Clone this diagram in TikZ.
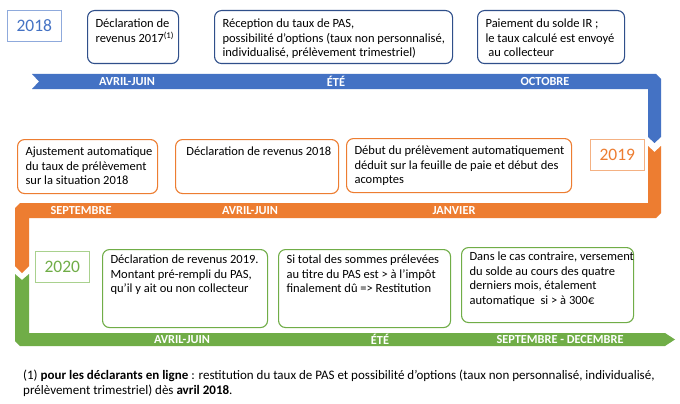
\documentclass[tikz,border=0pt]{standalone}
\usepackage{fontspec}
\setmainfont{Carlito}
\usetikzlibrary{calc}
\definecolor{cblue}{HTML}{4472C4}
\definecolor{corange}{HTML}{ED7D31}
\definecolor{cgreen}{HTML}{70AD47}
\definecolor{bdblue}{HTML}{2F4F8A}
\definecolor{lblue}{HTML}{8FAADC}
\definecolor{lorange}{HTML}{F4B183}
\definecolor{lgreen}{HTML}{A9D18E}
\newcommand{\bxt}[3]{\parbox[t][#2][t]{#1}{\begin{tabular}[t]{@{}l@{}}#3\end{tabular}}}
\begin{document}
\begin{tikzpicture}[x=1pt,y=-1pt,
 evt/.style={draw, rounded corners=7pt, line width=1.1pt, anchor=north west, inner xsep=8pt, inner ysep=7pt, font=\fontsize{12.5}{14.5}\selectfont, text=black},
 yr/.style={draw, line width=0.7pt, anchor=north west, minimum width=54pt, minimum height=31pt, inner sep=0pt, font=\fontsize{17.5}{20}\selectfont},
 lbl/.style={text=white, font=\fontsize{12.3}{14}\selectfont\bfseries, inner sep=0pt}]
\useasboundingbox (0,0) rectangle (680,404);
\fill[white] (0,0) rectangle (680,404);
% bands
\fill[cblue] (32,74) -- (656,74) -- (661,79) -- (661,137) -- (654.5,143) -- (648,137) -- (648,89) -- (32,89) -- (39,81.5) -- cycle;
\fill[corange] (648,146) -- (654.5,152) -- (661,146) -- (661,213) -- (656,218) -- (29,218) -- (29,266) -- (22,273) -- (15,266) -- (15,208) -- (20,203) -- (648,203) -- cycle;
\fill[cgreen] (15,274) -- (22,280) -- (29,274) -- (29,333) -- (665,333) -- (675,339.5) -- (665,346) -- (20,346) -- (15,341) -- cycle;
% band labels
\node[lbl] (l1) at (127,81.5) {AVRIL-JUIN};
\node[lbl] (l2) at (336,81.5) {ÉTÉ};
\node[lbl] (l3) at (545,81.5) {OCTOBRE};
\node[lbl] (l4) at (81,210.5) {SEPTEMBRE};
\node[lbl] (l5) at (250,210.5) {AVRIL-JUIN};
\node[lbl] (l6) at (454,210.5) {JANVIER};
\node[lbl] (l7) at (182,339.5) {AVRIL-JUIN};
\node[lbl] (l8) at (380,339.5) {ÉTÉ};
\node[lbl] (l9) at (560,339.5) {SEPTEMBRE - DECEMBRE};
% years
\node[yr, draw=lblue, text=cblue] (y18) at (7,10) {2018};
\node[yr, draw=lorange, text=corange] (y19) at (590,139) {2019};
\node[yr, draw=lgreen, text=cgreen] (y20) at (35,251) {2020};
% blue events
\node[evt, draw=bdblue] (b1) at (87,10) {\bxt{75pt}{39pt}{Déclaration de\\revenus 2017\textsuperscript{(1)}}};
\node[evt, draw=bdblue] (b2) at (214,10) {\bxt{222pt}{39pt}{Réception du taux de PAS,\\possibilité d'options (taux non personnalisé,\\individualisé, prélèvement trimestriel)}};
\node[evt, draw=bdblue] (b3) at (477,10) {\bxt{131pt}{39pt}{Paiement du solde IR ;\\le taux calculé est envoyé\\\ au collecteur}};
% orange events
\node[evt, draw=corange, inner ysep=6pt] (oA) at (17,139) {\bxt{124pt}{42pt}{Ajustement automatique\\du taux de prélèvement\\sur la situation 2018}};
\node[evt, draw=corange, inner ysep=6pt] (oB) at (175,139) {\bxt{147pt}{42pt}{\ Déclaration de revenus 2018}};
\node[evt, draw=corange, inner ysep=6pt] (oC) at (346,138) {\bxt{209pt}{42pt}{Début du prélèvement automatiquement\\déduit sur la feuille de paie et début des\\acomptes}};
% green events
\node[evt, draw=cgreen, inner ysep=4pt] (g1) at (102,249) {\bxt{149pt}{70pt}{Déclaration de revenus 2019.\\Montant pré-rempli du PAS,\\qu'il y ait ou non collecteur}};
\node[evt, draw=cgreen, inner ysep=4pt] (g2) at (278,249) {\bxt{156pt}{70pt}{Si total des sommes prélevées\\au titre du PAS est > à l'impôt\\finalement dû => Restitution}};
\node[evt, draw=cgreen, inner ysep=3pt] (g3) at (461,247) {\bxt{156pt}{69pt}{Dans le cas contraire, versement\\du solde au cours des quatre\\derniers mois, étalement\\automatique \ si > à 300€}};
% footnote
\node[anchor=north west, align=left, inner sep=0pt, font=\fontsize{13}{15}\selectfont] (fn) at (23,370) {(1) \textbf{pour les déclarants en ligne} : restitution du taux de PAS et possibilité d'options (taux non personnalisé, individualisé,\\prélèvement trimestriel) dès \textbf{avril 2018}.};
\end{tikzpicture}
\end{document}
